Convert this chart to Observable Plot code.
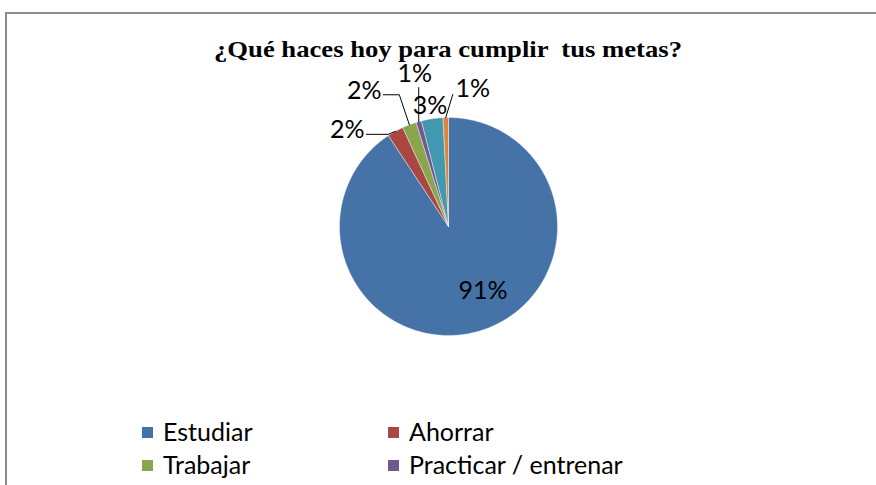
<!DOCTYPE html>
<html>
<head>
<meta charset="utf-8">
<script src="https://cdn.jsdelivr.net/npm/d3@7"></script>
<script src="https://cdn.jsdelivr.net/npm/@observablehq/plot@0.6"></script>
<style>
  html, body { margin: 0; padding: 0; background: #fff; }
  #wrap { position: relative; width: 876px; height: 485px; overflow: hidden; background: #fff; }
  #frame { position: absolute; left: 5px; top: 12px; width: 1000px; height: 1000px;
           border-top: 2px solid #8c8c8c; border-left: 2px solid #8c8c8c; box-sizing: border-box; }
  #title { position: absolute; left: 0; width: 896px; top: 37px; text-align: center;
           font-family: "Liberation Serif", "DejaVu Serif", serif; font-weight: bold; font-size: 24px;
           line-height: 24px; white-space: pre; color: #000; transform: scaleX(1.11); transform-origin: 448px 0; }
  #chart { position: absolute; left: 0; top: 50px; }
  .leg { position: absolute; font-family: Lato, "Open Sans", sans-serif; font-size: 25px; line-height: 25px;
         color: #000; white-space: pre; }
  .sw { position: absolute; width: 11px; height: 11px; }
</style>
</head>
<body>
<div id="wrap">
  <div id="frame"></div>
  <div id="title">¿Qué haces hoy para cumplir  tus metas?</div>
  <div id="chart"></div>
  <div id="legend"></div>
</div>
<script>
// ---- data ----
const categories = ["Estudiar", "Ahorrar", "Trabajar", "Practicar / entrenar", "Leer", "Otros"];
const values = [90.7, 2.4, 2.1, 0.8, 3.2, 0.8];
const colors = ["#4572A7", "#AA4643", "#89A54E", "#71588F", "#4198AF", "#DB843D"];

// ---- layout (pixel offsets of labels / leader elbows from each slice's rim midpoint) ----
const R = 109;
const labelLayout = [
  {r: 0.62, dx: 15, dy: 0, leader: null},
  {r: 1, dx: -48, dy: -1, leader: [[-7, 3], [-29, 3]]},
  {r: 1, dx: -45, dy: -34, leader: [[-10, -30], [-26, -30]]},
  {r: 1, dx: -4, dy: -48, leader: [[0, -34]]},
  {r: 1, dx: -2, dy: -13, leader: null},
  {r: 1, dx: 27, dy: -29, leader: [[7, -23]]}
];

const total = d3.sum(values);
const arcs = d3.pie().sort(null).value(d => d)(values);

// slice polygons in data space (unit circle, y up, angle clockwise from 12 o'clock)
const slicePts = [];
arcs.forEach((a, i) => {
  const cat = categories[i];
  slicePts.push({cat, x: 0, y: 0});
  const n = Math.max(2, Math.ceil((a.endAngle - a.startAngle) / 0.01));
  for (let k = 0; k <= n; k++) {
    const t = a.startAngle + (a.endAngle - a.startAngle) * k / n;
    slicePts.push({cat, x: Math.sin(t), y: Math.cos(t)});
  }
  slicePts.push({cat, x: 0, y: 0});
});

const labels = [];
const leaders = [];
arcs.forEach((a, i) => {
  const m = (a.startAngle + a.endAngle) / 2;
  const L = labelLayout[i];
  const rx = Math.sin(m) * L.r, ry = Math.cos(m) * L.r;
  labels.push({cat: categories[i], x: rx + L.dx / R, y: ry - L.dy / R,
               text: Math.round(values[i] / total * 100) + "%"});
  if (L.leader) {
    const ex = Math.sin(m), ey = Math.cos(m);
    leaders.push({cat: categories[i], x: ex, y: ey});
    L.leader.forEach(([dx, dy]) => leaders.push({cat: categories[i], x: ex + dx / R, y: ey - dy / R}));
  }
});

const cx = 448, cy = 176; // pie centre inside the svg
const plot = Plot.plot({
  width: 876,
  height: 300,
  margin: 0,
  style: {background: "transparent", overflow: "visible"},
  x: {domain: [-1, 1], range: [cx - R, cx + R], axis: null},
  y: {domain: [-1, 1], range: [cy + R, cy - R], axis: null},
  color: {domain: categories, range: colors},
  marks: [
    Plot.line(slicePts, {x: "x", y: "y", z: "cat", fill: "cat", stroke: "#ffffff", strokeWidth: 0.4, curve: "linear"}),
    Plot.line(leaders, {x: "x", y: "y", z: "cat", stroke: "#000", strokeWidth: 1, curve: "linear"}),
    Plot.text(labels, {x: "x", y: "y", text: "text", fill: "#000", fontSize: 25,
                       fontFamily: "Lato, 'Open Sans', sans-serif"})
  ]
});
document.getElementById("chart").appendChild(plot);

// ---- legend (two columns; rows below the window are cropped as in the reference) ----
const legend = document.getElementById("legend");
categories.forEach((c, i) => {
  const col = i % 2, row = Math.floor(i / 2);
  const x = 142 + col * 246, y = 427 + row * 33;
  if (y > 470) return; // outside the visible window
  const sw = document.createElement("div");
  sw.className = "sw";
  sw.style.left = x + "px"; sw.style.top = y + "px"; sw.style.background = colors[i];
  legend.appendChild(sw);
  const t = document.createElement("div");
  t.className = "leg";
  t.style.left = (x + 21) + "px"; t.style.top = (y - 8) + "px";
  t.textContent = c;
  legend.appendChild(t);
});
</script>
</body>
</html>
